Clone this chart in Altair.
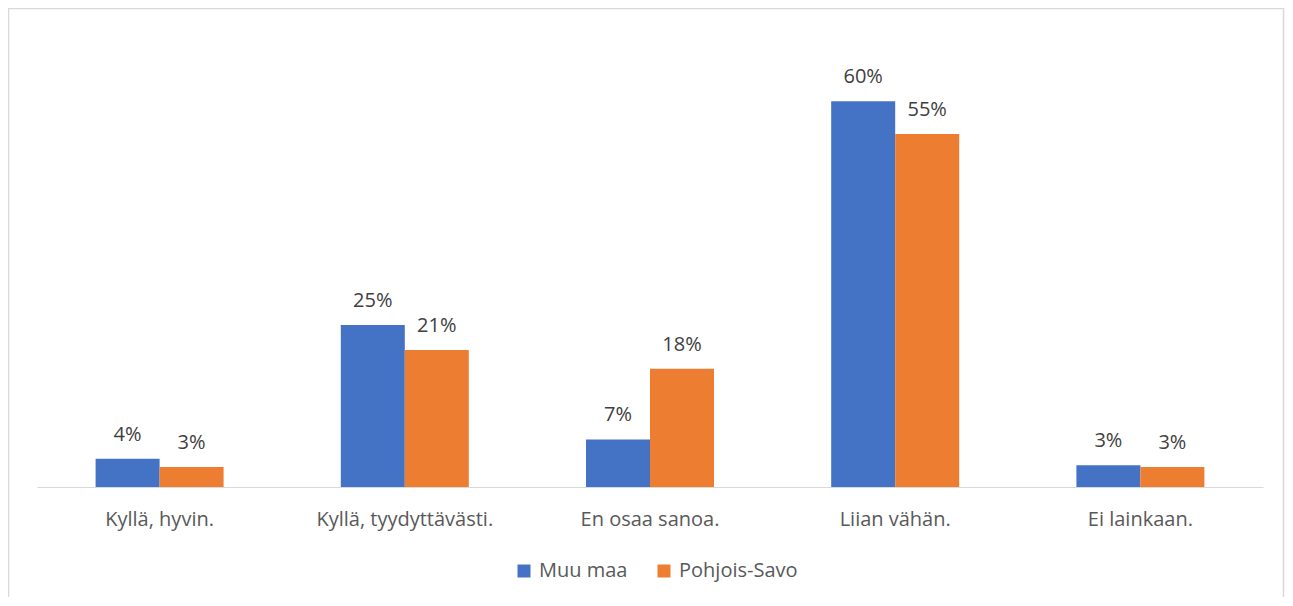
import altair as alt
import pandas as pd

categories = ["Kyllä, hyvin.", "Kyllä, tyydyttävästi.", "En osaa sanoa.", "Liian vähän.", "Ei lainkaan."]
series = ["Muu maa", "Pohjois-Savo"]
muu_maa = [0.044, 0.252, 0.074, 0.600, 0.034]
pohjois_savo = [0.031, 0.213, 0.184, 0.549, 0.031]
colors = ["#4472C4", "#ED7D31"]

rows = []
for c, a, b in zip(categories, muu_maa, pohjois_savo):
    rows.append({"cat": c, "series": series[0], "value": a})
    rows.append({"cat": c, "series": series[1], "value": b})
df = pd.DataFrame(rows)

FONT = "Open Sans"
TXT = "#595959"
W, H = 1226, 450

x = alt.X("cat:N", sort=categories, title=None,
          scale=alt.Scale(paddingInner=0.478, paddingOuter=0.239),
          axis=alt.Axis(labelAngle=0, ticks=False, domainColor="#D9D9D9",
                        labelFont=FONT, labelFontSize=20, labelColor=TXT,
                        labelPadding=38, labelBaseline="alphabetic"))
xo = alt.XOffset("series:N", sort=series, scale=alt.Scale(paddingInner=0, paddingOuter=0))
y = alt.Y("value:Q", scale=alt.Scale(domain=[0, 0.7]), axis=None)

base = alt.Chart(df)

bars = base.mark_bar().encode(
    x=x, xOffset=xo, y=y,
    color=alt.Color("series:N", sort=series,
                    scale=alt.Scale(domain=series, range=colors),
                    legend=alt.Legend(title=None, orient="none", direction="horizontal",
                                      legendX=477, legendY=524,
                                      symbolType="square", symbolSize=169,
                                      symbolStrokeWidth=0, labelFont=FONT,
                                      labelFontSize=20, labelColor=TXT,
                                      labelOffset=5, columnPadding=26)),
)

labels = base.mark_text(font=FONT, fontSize=20, color="#404040",
                        baseline="alphabetic", dy=-18).encode(
    x=x, xOffset=xo, y=y,
    text=alt.Text("value:Q", format=".0%"),
)

frame_df = pd.DataFrame({"k": [0]})
frame = alt.Chart(frame_df).mark_rect(fill=None, stroke="#D9D9D9", strokeWidth=1.5).encode(
    x=alt.value(-28.5), x2=alt.value(W + 20.5),
    y=alt.value(-28.5), y2=alt.value(H + 120),
)

chart = alt.layer(frame, bars, labels).properties(
    width=W, height=H,
    autosize=alt.AutoSizeParams(type="none"),
    padding={"left": 29, "top": 29, "right": 22, "bottom": 110},
).configure(background="white").configure_view(stroke=None)

chart.save("out.html", embed_options={"renderer": "svg", "actions": False})
